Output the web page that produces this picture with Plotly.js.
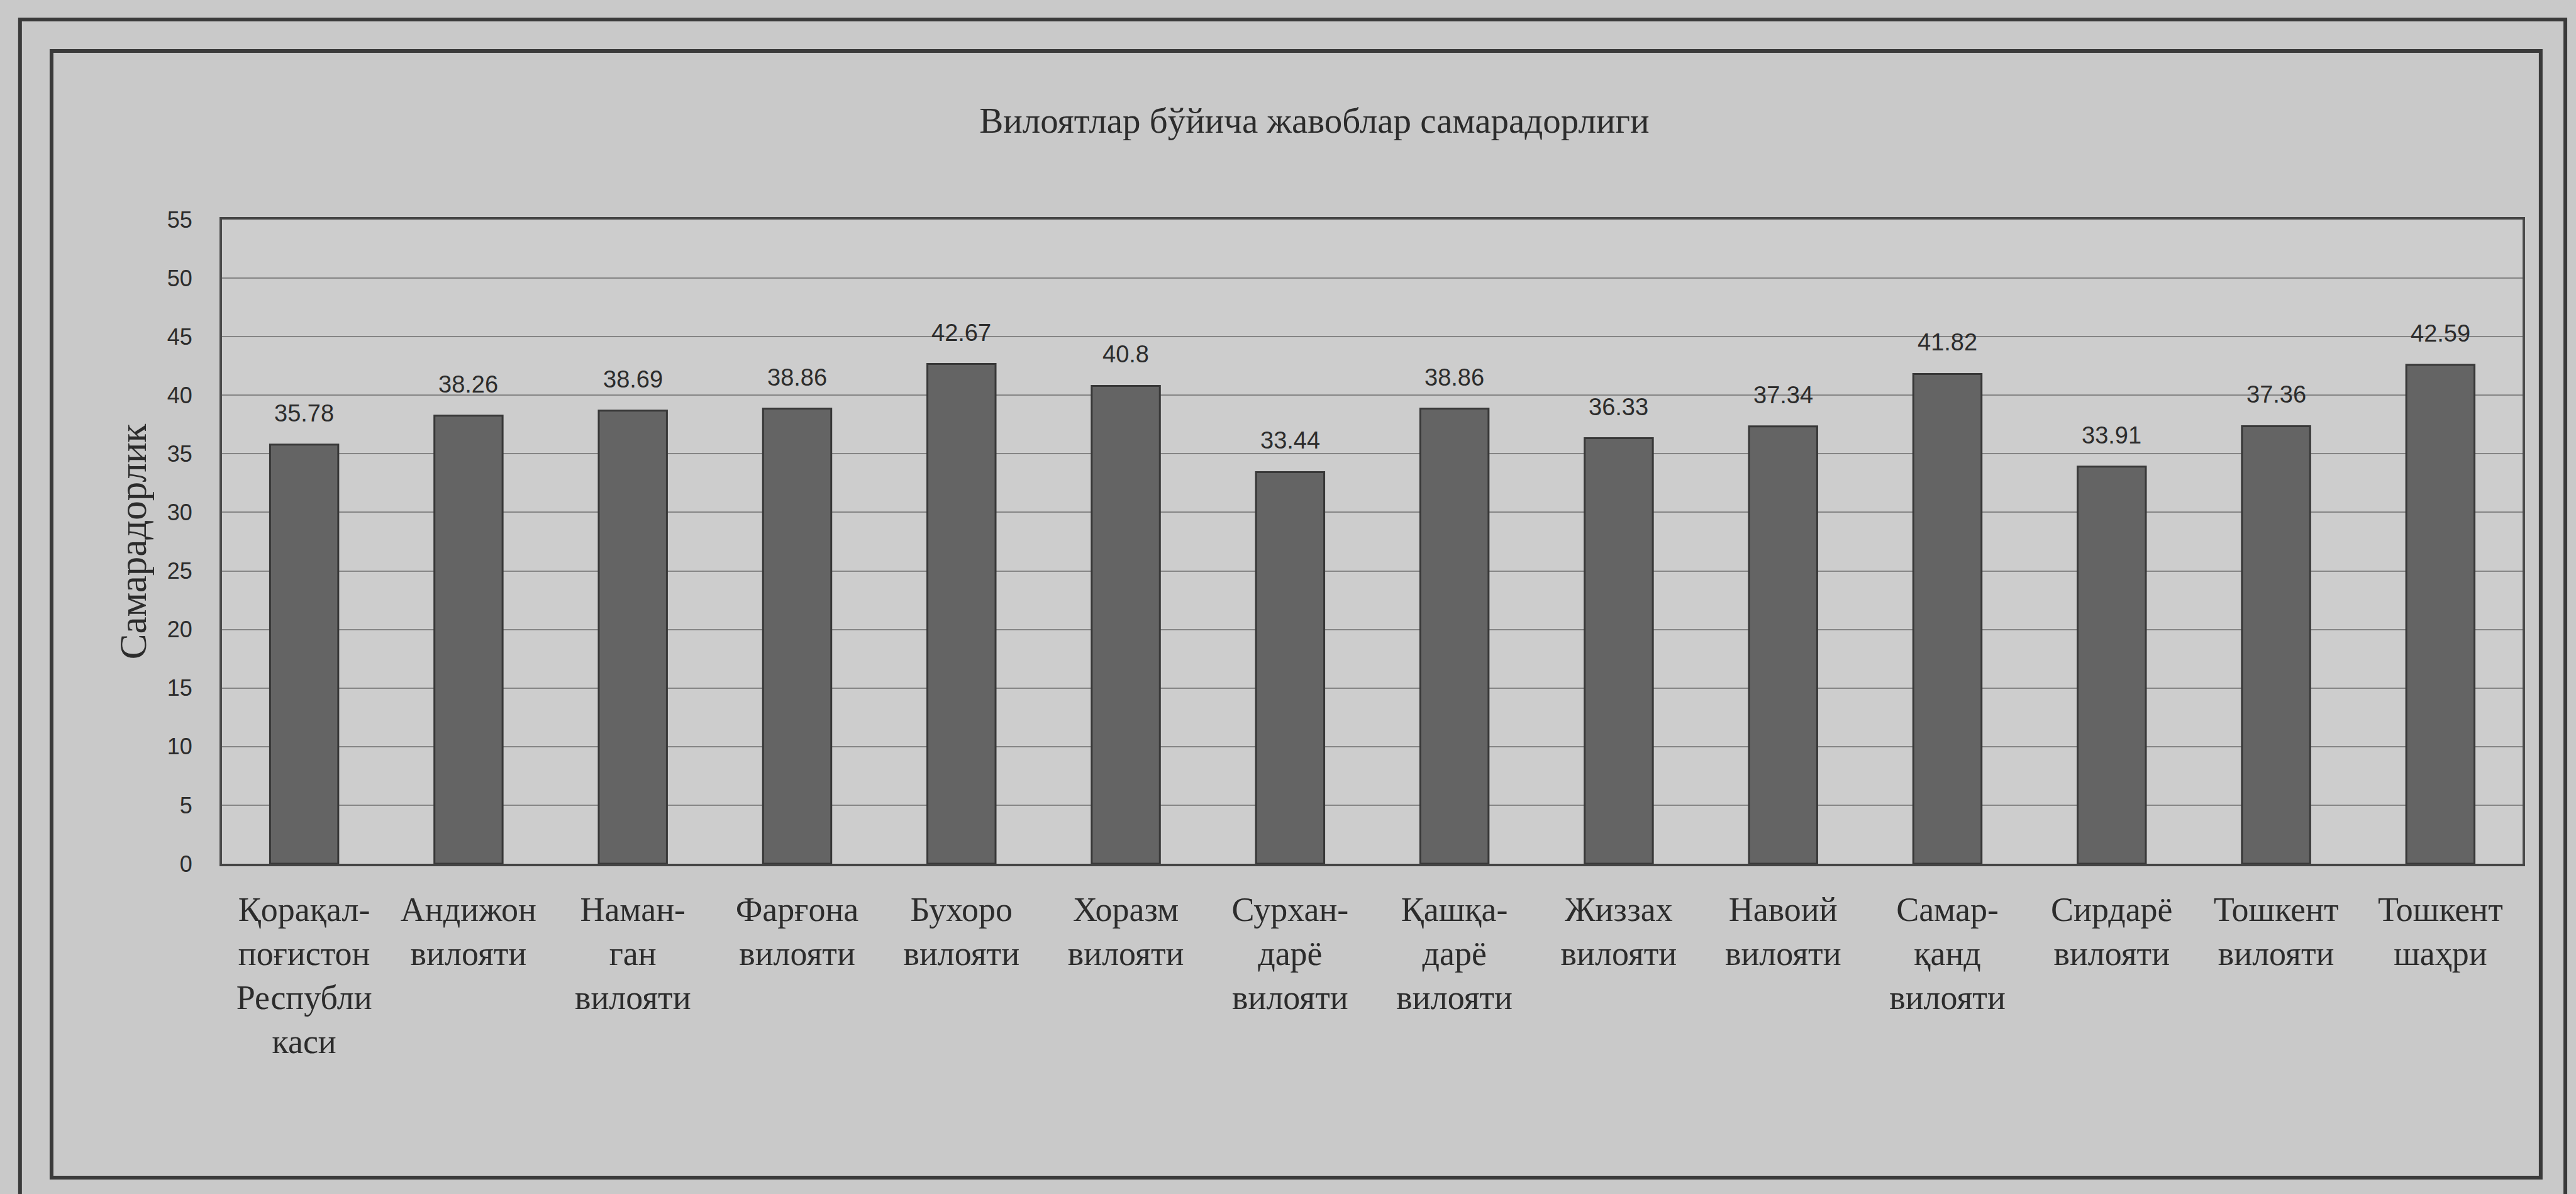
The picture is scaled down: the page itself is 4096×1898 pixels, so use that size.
<!DOCTYPE html>
<html>
<head>
<meta charset="utf-8">
<script src="https://cdn.plot.ly/plotly-3.0.1.min.js"></script>
<style>
  html, body { margin: 0; padding: 0; background: #cbcbcb; }
  #chart { width: 4096px; height: 1898px; }
</style>
</head>
<body>
<div id="chart"></div>
<script>
// ---- data ----
const categories = [
  "Қорақалпоғистон Республикаси",
  "Андижон вилояти",
  "Наманган вилояти",
  "Фарғона вилояти",
  "Бухоро вилояти",
  "Хоразм вилояти",
  "Сурхандарё вилояти",
  "Қашқадарё вилояти",
  "Жиззах вилояти",
  "Навоий вилояти",
  "Самарқанд вилояти",
  "Сирдарё вилояти",
  "Тошкент вилояти",
  "Тошкент шаҳри"
];
const tickLabels = [
  "Қорақал-<br>поғистон<br>Республи<br>каси",
  "Андижон<br>вилояти",
  "Наман-<br>ган<br>вилояти",
  "Фарғона<br>вилояти",
  "Бухоро<br>вилояти",
  "Хоразм<br>вилояти",
  "Сурхан-<br>дарё<br>вилояти",
  "Қашқа-<br>дарё<br>вилояти",
  "Жиззах<br>вилояти",
  "Навоий<br>вилояти",
  "Самар-<br>қанд<br>вилояти",
  "Сирдарё<br>вилояти",
  "Тошкент<br>вилояти",
  "Тошкент<br>шаҳри"
];
const values = [35.78, 38.26, 38.69, 38.86, 42.67, 40.8, 33.44, 38.86, 36.33, 37.34, 41.82, 33.91, 37.36, 42.59];
const valueLabels = ["35.78", "38.26", "38.69", "38.86", "42.67", "40.8", "33.44", "38.86", "36.33", "37.34", "41.82", "33.91", "37.36", "42.59"];
const yTicks = [0, 5, 10, 15, 20, 25, 30, 35, 40, 45, 50, 55];
const chartTitle = "Вилоятлар бўйича жавоблар самарадорлиги";
const yTitle = "Самарадорлик";

// ---- styles ----
const textColor = "#2c2c2c";
const serif = "Liberation Serif, Times New Roman, serif";
const sans = "Liberation Sans, Arial, sans-serif";

const trace = {
  type: "bar",
  x: categories,
  y: values,
  marker: { color: "#646464", line: { color: "#383838", width: 3 } },
  hoverinfo: "x+y"
};

const annotations = categories.map((c, i) => ({
  x: c, y: values[i], xref: "x", yref: "y",
  text: valueLabels[i], showarrow: false,
  yanchor: "middle", yshift: 50,
  font: { family: sans, size: 38, color: textColor }
}));

const frameLine = { color: "#3a3a3a", width: 6 };
const shapes = [
  // inner page frame
  { type: "rect", xref: "paper", yref: "paper", x0: -0.0741, x1: 1.0079, y0: -0.4873, y1: 1.2617,
    line: frameLine, fillcolor: "rgba(0,0,0,0)", layer: "below" },
  // outer page frame
  { type: "rect", xref: "paper", yref: "paper", x0: -0.0878, x1: 1.0186, y0: -0.53, y1: 1.3105,
    line: frameLine, fillcolor: "rgba(0,0,0,0)", layer: "below" }
];

const layout = {
  width: 4096, height: 1898,
  margin: { l: 353, r: 85, t: 349, b: 525, pad: 0 },
  paper_bgcolor: "#c9c9c9",
  plot_bgcolor: "#cdcdcd",
  showlegend: false,
  bargap: 0.585,
  title: {
    text: chartTitle,
    font: { family: serif, size: 57, color: textColor },
    xref: "paper", x: 0.4748, xanchor: "center",
    yref: "container", y: 0.8994, yanchor: "middle"
  },
  xaxis: {
    type: "category",
    tickmode: "array", tickvals: categories, ticktext: tickLabels,
    tickfont: { family: serif, size: 54, color: textColor },
    tickangle: 0,
    ticks: "outside", ticklen: 22, tickcolor: "rgba(0,0,0,0)",
    showline: true, linecolor: "#444444", linewidth: 4, mirror: true,
    showgrid: false, automargin: false, fixedrange: true
  },
  yaxis: {
    range: [0, 55],
    tickmode: "array", tickvals: yTicks, ticktext: yTicks.map(String),
    tickfont: { family: sans, size: 36, color: textColor },
    ticks: "outside", ticklen: 36, tickcolor: "rgba(0,0,0,0)",
    showline: true, linecolor: "#4a4a4a", linewidth: 4, mirror: true,
    showgrid: true, gridcolor: "#858585", gridwidth: 2,
    zeroline: false, automargin: false, fixedrange: true,
    title: { text: yTitle, font: { family: serif, size: 61, color: textColor }, standoff: 14 }
  },
  annotations: annotations,
  shapes: shapes
};

Plotly.newPlot("chart", [trace], layout, { displayModeBar: false, staticPlot: true });
</script>
</body>
</html>
